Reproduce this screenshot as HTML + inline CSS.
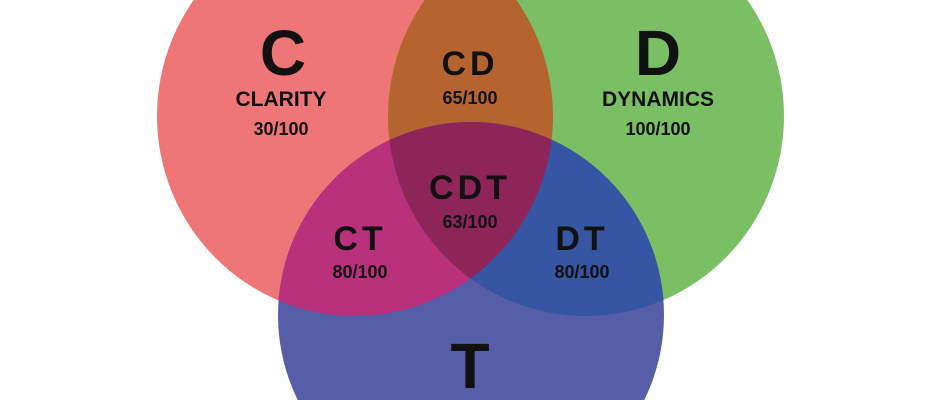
<!DOCTYPE html>
<html><head><style>
html,body{margin:0;padding:0;background:#fff;width:940px;height:400px;overflow:hidden;}
svg{display:block;}
text{font-family:"Liberation Sans",sans-serif;font-weight:bold;fill:#111;text-anchor:middle;}
</style></head><body>
<svg width="940" height="400" viewBox="0 0 940 400">
<defs>
<clipPath id="r"><ellipse cx="355" cy="116" rx="198" ry="200"/></clipPath>
<clipPath id="g"><ellipse cx="586" cy="116" rx="198" ry="200"/></clipPath>
</defs>
<rect width="940" height="400" fill="#fff"/>
<ellipse cx="355" cy="116" rx="198" ry="200" fill="#ef7677"/>
<ellipse cx="586" cy="116" rx="198" ry="200" fill="#7bbf64"/>
<circle cx="471" cy="315" r="193" fill="#565ea8"/>
<ellipse cx="586" cy="116" rx="198" ry="200" fill="#b5642f" clip-path="url(#r)"/>
<circle cx="471" cy="315" r="193" fill="#b9307b" clip-path="url(#r)"/>
<circle cx="471" cy="315" r="193" fill="#3656a3" clip-path="url(#g)"/>
<g clip-path="url(#r)"><circle cx="471" cy="315" r="193" fill="#8e2559" clip-path="url(#g)"/></g>
<text x="283" y="75" font-size="64">C</text>
<text x="281" y="106" font-size="21">CLARITY</text>
<text x="281" y="135" font-size="18">30/100</text>
<text x="470" y="75" font-size="34" letter-spacing="4">CD</text>
<text x="470" y="104" font-size="18">65/100</text>
<text x="658" y="75" font-size="64">D</text>
<text x="658" y="106" font-size="21">DYNAMICS</text>
<text x="658" y="135" font-size="18">100/100</text>
<text x="470" y="199" font-size="34" letter-spacing="4">CDT</text>
<text x="470" y="228" font-size="18">63/100</text>
<text x="360" y="250" font-size="34" letter-spacing="4">CT</text>
<text x="360" y="278" font-size="18">80/100</text>
<text x="582" y="250" font-size="34" letter-spacing="4">DT</text>
<text x="582" y="278" font-size="18">80/100</text>
<text x="470" y="388" font-size="64">T</text>
</svg>
</body></html>
